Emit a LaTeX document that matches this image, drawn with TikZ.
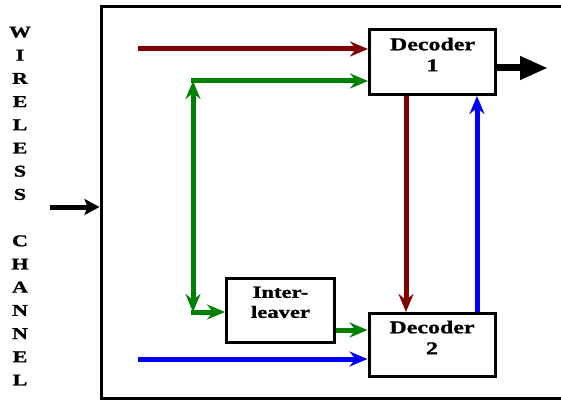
\documentclass[tikz,border=0pt]{standalone}
\usepackage{fontspec}
\setmainfont{Liberation Serif}[FakeStretch=1.33, BoldFeatures={FakeStretch=1.33, FakeBold=1.2}]
\usetikzlibrary{arrows.meta}
\definecolor{myred}{RGB}{128,0,0}
\definecolor{mygreen}{RGB}{0,128,0}
\definecolor{myblue}{RGB}{0,0,255}
\tikzset{
  ctip/.tip={Stealth[length=18pt,width=15pt,inset=6pt]},
  box/.style={draw, line width=3pt, fill=white, inner sep=0pt},
  lbl/.style={font=\bfseries\fontsize{18}{21}\selectfont, align=center, inner sep=0pt},
  carrow/.style={line width=5pt, -ctip},
}
\begin{document}
\begin{tikzpicture}[x=1pt,y=-1pt]
\useasboundingbox (0,0) rectangle (561,403);
\clip (0,0) rectangle (561,403);
\fill[white] (0,0) rectangle (561,403);
% outer box
\node[box, minimum width=480pt, minimum height=391pt] (outer) at (341,202.5) {};
% side text
\node[font=\bfseries\fontsize{16.5}{23.2}\selectfont, align=center, inner sep=0pt] (wc) at (20,206)
  {W\\I\\R\\E\\L\\E\\S\\S\\[23.2pt]C\\H\\A\\N\\N\\E\\L};
% blocks
\node[box, minimum width=126pt, minimum height=65pt] (dec1) at (432.5,62) {};
\node[lbl] (dec1t) at (432.5,54.5) {Decoder\\1};
\node[box, minimum width=126pt, minimum height=63pt] (dec2) at (432,345) {};
\node[lbl] (dec2t) at (432,337.5) {Decoder\\2};
\node[box, minimum width=108pt, minimum height=64pt] (inter) at (280.5,310.5) {};
\node[lbl, font=\bfseries\fontsize{17}{20}\selectfont] (intert) at (280.5,302.3) {Inter-\\leaver};
% coordinates
\coordinate (rin) at (138,49);
\coordinate (bin) at (138,359);
\coordinate (gt) at (193,81);
\coordinate (gb) at (193,312);
\coordinate (ie) at (335,330);
\coordinate (rx) at (406,0);
\coordinate (bx) at (477,0);
\coordinate (oy) at (0,68);
\coordinate (oend) at (548,68);
\coordinate (iin) at (50,207);
% red
\draw[carrow, myred] (rin) -- (rin -| dec1.west);
\draw[carrow, myred] (dec1.south -| rx) -- (dec2.north -| rx);
% green
\draw[line width=5pt, mygreen, ctip-ctip] (gt) -- (gb);
\draw[carrow, mygreen] ([xshift=-2.5pt]gt) -- (gt -| dec1.west);
\draw[carrow, mygreen] ([xshift=-2.5pt]gb) -- (gb -| inter.west);
\draw[carrow, mygreen] (inter.east |- ie) -- (ie -| dec2.west);
% blue
\draw[carrow, myblue] (bin) -- (bin -| dec2.west);
\draw[carrow, myblue] (dec2.north -| bx) -- (dec1.south -| bx);
% black
\draw[line width=7pt, -{Triangle[length=28pt,width=22pt]}] (dec1.east |- oy) -- (oend);
\draw[line width=5pt, -{Stealth[length=15pt,width=16pt,inset=3pt]}] (iin) -- (iin -| outer.west);
\end{tikzpicture}
\end{document}
